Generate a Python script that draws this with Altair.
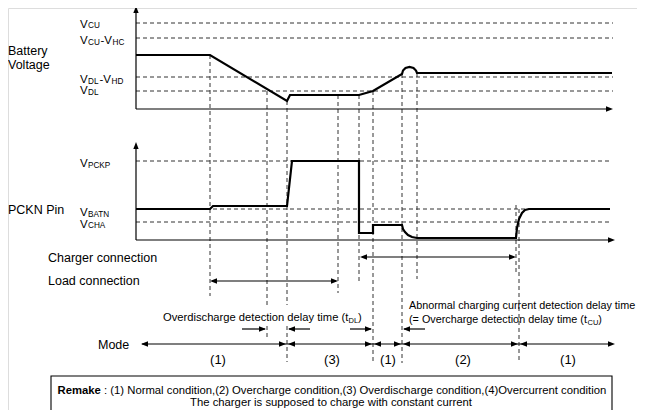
import altair as alt
import pandas as pd

FONT = "Liberation Sans"

# ---------------- data (diagram units: time -> horizontal, level -> vertical) -------------
# Battery voltage trace
batt_t = [136, 210, 287, 290, 359, 373, 402, 403, 405.5, 409.5, 413.5, 416, 417, 612]
batt_v = [55, 55, 101, 95, 95, 91, 74, 70.5, 68, 67, 68, 70.5, 73, 73]

# PCKN pin trace
pckn_t = [136, 210, 213, 287, 292, 359, 359, 373, 373, 402, 403, 405, 408, 412, 417,
          516, 517, 519, 522, 525, 529, 610]
pckn_v = [209, 209, 206, 206, 161, 161, 233, 233, 225, 225, 229, 232, 235, 237, 238,
          238, 228, 219, 213, 210, 209, 209]

# Threshold levels (dashed)
top_levels = [23, 38, 77, 91]          # VCU, VCU-VHC, VDL-VHD, VDL
bot_levels = [161, 209, 222]           # VPCKP, VBATN, VCHA

# Event markers (dashed verticals)
vd_x = [210, 267, 267, 287, 287, 338, 359, 373, 402, 417, 516, 519]
vd_y1 = [55, 91, 326, 101, 326, 95, 95, 91, 74, 73, 205, 209]
vd_y2 = [296, 305, 338, 305, 362, 293, 281, 363, 363, 279, 272, 362]

# Mode row
mode_labels = ["(1)", "(3)", "(1)", "(2)", "(1)"]
mode_label_x = [218, 332, 388, 463, 568]

# ---------------- build tables -------------
batt = pd.DataFrame({"x": batt_t, "y": batt_v, "i": range(len(batt_t)), "s": "batt"})
pckn = pd.DataFrame({"x": pckn_t, "y": pckn_v, "i": range(len(pckn_t)), "s": "pckn"})
traces = pd.concat([batt, pckn])

hd = pd.DataFrame({
    "x": [136] * len(top_levels) + [136] * len(bot_levels),
    "x2": [613] * len(top_levels) + [610] * len(bot_levels),
    "y": top_levels + bot_levels,
})
vd = pd.DataFrame({"x": vd_x, "y": vd_y1, "y2": vd_y2})

# solid axes / arrow shafts
sx = [136, 136, 136, 136, 362, 212, 142, 242, 289, 350, 404]
sx2 = [136, 607, 136, 609, 514, 336, 612, 265, 310, 371, 425]
sy = [109, 109, 240, 240, 257, 281, 344, 329, 329, 329, 329]
sy2 = [12, 109, 148, 240, 257, 281, 344, 329, 329, 329, 329]
shafts = pd.DataFrame({"x": sx, "x2": sx2, "y": sy, "y2": sy2})

# arrow-head tips
right_x = [613, 615, 516, 338, 286, 372, 401, 518, 615, 266, 372]
right_y = [109, 240, 257, 281, 344, 344, 344, 344, 344, 329, 329]
left_x = [360, 210, 141, 288, 374, 403, 520, 288, 403]
left_y = [257, 281, 344, 344, 344, 344, 344, 329, 329]
up_x = [136, 136]
up_y = [6, 142]

# texts: (text, x, baseline y, font size)
left_txt = [
    ("Battery", 8, 55, 12.5), ("Voltage", 8, 68.5, 12.5), ("PCKN Pin", 8, 214, 12.5),
    ("Charger connection", 48, 262, 12.5), ("Load connection", 48, 285, 12.5),
    ("Mode", 98, 349, 12.5),
    ("V", 80, 27.7, 11.5), ("CU", 88, 28.2, 8.2),
    ("V", 80, 44, 11.5), ("CU", 88, 44.5, 8.2), ("-V", 100.5, 44, 11.5), ("HC", 112.5, 44.5, 8.2),
    ("V", 80, 83, 11.5), ("DL", 88, 83.5, 8.2), ("-V", 99.5, 83, 11.5), ("HD", 111.5, 83.5, 8.2),
    ("V", 80, 94, 11.5), ("DL", 88, 94.5, 8.2),
    ("V", 80, 167, 11.5), ("PCKP", 88, 167.5, 8.2),
    ("V", 80, 216, 11.5), ("BATN", 88, 216.5, 8.2),
    ("V", 80, 227.5, 11.5), ("CHA", 88, 228, 8.2),
    ("Overdischarge detection delay time (t", 163, 321, 11.2), ("DL", 348.5, 322.5, 7.5),
    (")", 358, 321, 11.2),
    ("Abnormal charging current detection delay time", 409, 309, 10.8),
    ("(= Overcharge detection delay time (t", 409, 323, 10.8), ("CU", 587.5, 324.5, 7.5),
    (")", 598.3, 323, 10.8),
    (": (1) Normal condition,(2) Overcharge condition,(3) Overdischarge condition,(4)Overcurrent condition",
     104, 394, 11.3),
]
ltxt = pd.DataFrame(left_txt, columns=["t", "x", "y", "fs"])
bold_txt = pd.DataFrame([("Remake", 57.5, 394, 11.3)], columns=["t", "x", "y", "fs"])
ctr_txt = pd.DataFrame(
    [(m, mx, 364, 13) for m, mx in zip(mode_labels, mode_label_x)]
    + [("The charger is supposed to charge with constant current", 331, 406, 11.3)],
    columns=["t", "x", "y", "fs"])

box = pd.DataFrame({"x": [51], "x2": [612], "y": [376], "y2": [415]})

# ---------------- scales -------------
XS = alt.Scale(domain=[8, 637], nice=False, zero=False)
YS = alt.Scale(domain=[8, 410], nice=False, zero=False, reverse=True)
X = lambda f="x": alt.X(f"{f}:Q", scale=XS, axis=None)
Y = lambda f="y": alt.Y(f"{f}:Q", scale=YS, axis=None)

box_l = alt.Chart(box).mark_rect(fill="white", stroke="black", strokeWidth=1.1).encode(
    x=X(), x2="x2:Q", y=Y(), y2="y2:Q")

hd_l = alt.Chart(hd).mark_rule(color="#333", strokeWidth=1, strokeDash=[4, 3]).encode(
    x=X(), x2="x2:Q", y=Y())
vd_l = alt.Chart(vd).mark_rule(color="#333", strokeWidth=1, strokeDash=[4, 3]).encode(
    x=X(), y=Y(), y2="y2:Q")
sh_l = alt.Chart(shafts).mark_rule(color="black", strokeWidth=1.2).encode(
    x=X(), x2="x2:Q", y=Y(), y2="y2:Q")


def heads(xs, ys, path):
    df = pd.DataFrame({"x": xs, "y": ys})
    return alt.Chart(df).mark_point(shape=path, filled=True, color="black", opacity=1,
                                    size=196, strokeWidth=0).encode(x=X(), y=Y())


r_l = heads(right_x, right_y, "M0,0L-1,-0.38L-1,0.38Z")
l_l = heads(left_x, left_y, "M0,0L1,-0.38L1,0.38Z")
u_l = heads(up_x, up_y, "M0,0L-0.38,1L0.38,1Z")

tr_l = alt.Chart(traces).mark_line(color="black", strokeWidth=2.2, strokeJoin="miter").encode(
    x=X(), y=Y(), detail="s:N", order="i:Q")

txt_l = alt.Chart(ltxt).mark_text(align="left", baseline="alphabetic", font=FONT,
                                  color="black").encode(
    x=X(), y=Y(), text="t:N", size=alt.Size("fs:Q", scale=None, legend=None))
bold_l = alt.Chart(bold_txt).mark_text(align="left", baseline="alphabetic", font=FONT,
                                       fontWeight="bold", color="black").encode(
    x=X(), y=Y(), text="t:N", size=alt.Size("fs:Q", scale=None, legend=None))
ctr_l = alt.Chart(ctr_txt).mark_text(align="center", baseline="alphabetic", font=FONT,
                                     color="black").encode(
    x=X(), y=Y(), text="t:N", size=alt.Size("fs:Q", scale=None, legend=None))

chart = alt.layer(box_l, hd_l, vd_l, sh_l, r_l, l_l, u_l, tr_l, txt_l, bold_l, ctr_l).properties(
    width=629, height=402, padding=0, autosize="none"
).configure_view(stroke=None).configure(background="white")

chart.save("out.html", embed_options={"renderer": "svg", "actions": False})
